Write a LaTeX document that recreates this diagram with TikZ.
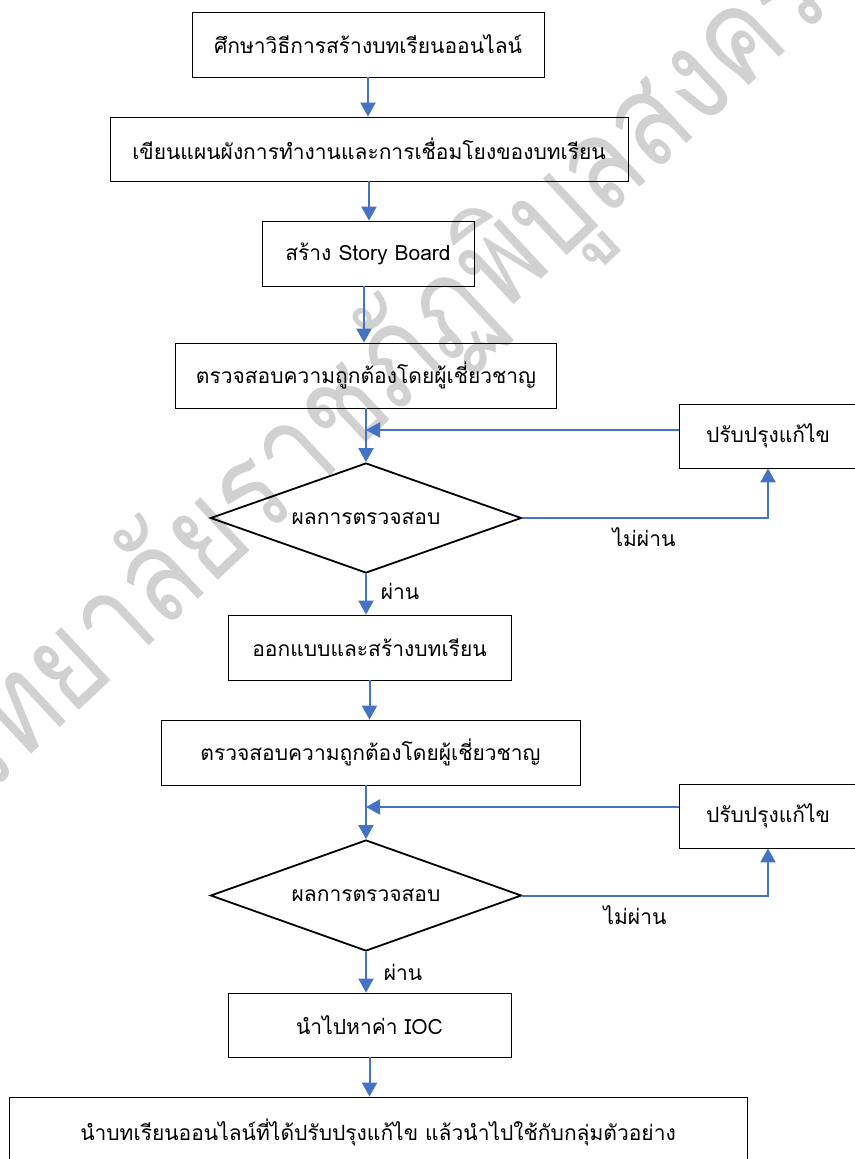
\documentclass[tikz,border=0pt]{standalone}
\usepackage{fontspec}
\setmainfont[Script=Thai]{Loma}
\usetikzlibrary{arrows.meta,shapes.geometric,positioning}
\definecolor{flowblue}{RGB}{68,114,196}

\begin{document}
\begin{tikzpicture}[x=1pt,y=-1pt,
  every node/.style={font=\fontsize{21}{25}\selectfont},
  stepbox/.style={draw,line width=0.8pt,minimum height=65pt,inner sep=0pt},
  check/.style={diamond,aspect=2.8,draw,line width=1.8pt,inner sep=0pt,minimum width=311pt},
  flow/.style={draw=flowblue,line width=2pt,-{Triangle[length=14pt,width=15pt]}}]
\useasboundingbox (0,0) rectangle (854,1159);
% watermark
\node[rotate=43,xscale=0.83,text=black!18,font=\fontsize{130}{130}\selectfont] (mark) at (355,405) {มหาวิทยาลัยราชภัฏพิบูลสงคราม};

% steps
\node[stepbox,minimum width=352pt] (study) at (368,44.5) {ศึกษาวิธีการสร้างบทเรียนออนไลน์};
\node[stepbox,minimum width=518pt,minimum height=64pt] (plan) at (369,149) {เขียนแผนผังการทำงานและการเชื่อมโยงของบทเรียน};
\node[stepbox,minimum width=212pt] (story) at (368,253.5) {สร้าง Story Board};
\node[stepbox,minimum width=381pt] (expert1) at (366,375.5) {ตรวจสอบความถูกต้องโดยผู้เชี่ยวชาญ};
\node[stepbox,minimum width=178pt,minimum height=64pt] (fix1) at (768,436) {ปรับปรุงแก้ไข};
\node[check,minimum height=110pt] (result1) at (366,518) {ผลการตรวจสอบ};
\node[stepbox,minimum width=283pt] (design) at (369.5,647.5) {ออกแบบและสร้างบทเรียน};
\node[stepbox,minimum width=419pt] (expert2) at (370.5,752.5) {ตรวจสอบความถูกต้องโดยผู้เชี่ยวชาญ};
\node[stepbox,minimum width=178pt,minimum height=64pt] (fix2) at (768,816) {ปรับปรุงแก้ไข};
\node[check,minimum height=111pt] (result2) at (366,895.5) {ผลการตรวจสอบ};
\node[stepbox,minimum width=283pt,minimum height=64pt] (ioc) at (369.5,1025) {นำไปหาค่า IOC};
\node[stepbox,minimum width=738pt,minimum height=70pt] (apply) at (378,1132) {นำบทเรียนออนไลน์ที่ได้ปรับปรุงแก้ไข แล้วนำไปใช้กับกลุ่มตัวอย่าง};

% labels
\node (fail1) at (644,537) {ไม่ผ่าน};
\node (pass1) at (400,591) {ผ่าน};
\node (fail2) at (635,915) {ไม่ผ่าน};
\node (pass2) at (403,972) {ผ่าน};

\coordinate (back1) at (366,430);
\coordinate (back2) at (366,807);

% connectors
\draw[flow] (study.south) -- (study.south |- plan.north);
\draw[flow] (plan.south) -- (plan.south |- story.north);
\draw[flow] ([xshift=-4pt]story.south) -- ([xshift=-4pt]story.south |- expert1.north);
\draw[flow] (result1.north |- expert1.south) -- (result1.north);
\draw[flow] (fix1.west |- back1) -- (back1);
\draw[flow] (result1.east) -| (fix1.south);
\draw[flow] (result1.south) -- (result1.south |- design.north);
\draw[flow] (design.south) -- (design.south |- expert2.north);
\draw[flow] (result2.north |- expert2.south) -- (result2.north);
\draw[flow] (fix2.west |- back2) -- (back2);
\draw[flow] (result2.east) -| (fix2.south);
\draw[flow] (result2.south) -- (result2.south |- ioc.north);
\draw[flow] (ioc.south) -- (ioc.south |- apply.north);
\end{tikzpicture}
\end{document}
